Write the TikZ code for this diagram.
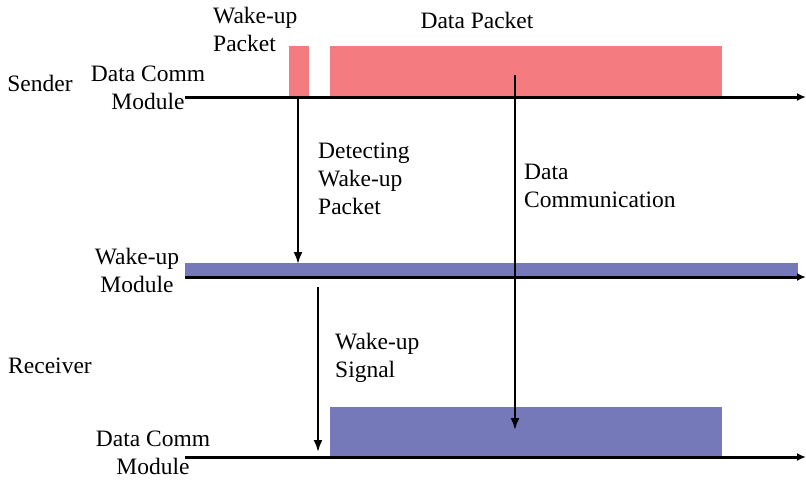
\documentclass[tikz,border=0pt]{standalone}
\usepackage{fontspec}
\setmainfont{Liberation Serif}
\newfontfamily\tnr{Liberation Serif}
\usepackage{xcolor}
\usetikzlibrary{arrows.meta,positioning,calc}

\definecolor{pktred}{RGB}{244,124,128}
\definecolor{sigblue}{RGB}{117,120,185}

\begin{document}
\begin{tikzpicture}[x=1pt, y=-1pt,
  lbl/.style={align=center, inner sep=0pt, font=\tnr\fontsize{23.5}{28}\selectfont},
  note/.style={align=left, inner sep=0pt, anchor=north west, font=\tnr\fontsize{23.5}{28}\selectfont},
  axis/.style={line width=3pt, -{Latex[length=9pt,width=8pt]}},
  arr/.style={line width=2.2pt, -{Latex[length=12pt,width=9pt]}}]
  \useasboundingbox (0,0) rectangle (806,480);
  % packets and signals
  \fill[pktred]  (289,46)  rectangle (309,97);
  \fill[pktred]  (330,46)  rectangle (722,97);
  \fill[sigblue] (185,263) rectangle (798,277);
  \fill[sigblue] (330,407) rectangle (722,457);
  % time lines
  \coordinate (s0) at (185,97);  \coordinate (s1) at (806,97);
  \coordinate (w0) at (185,277); \coordinate (w1) at (806,277);
  \coordinate (r0) at (185,457); \coordinate (r1) at (806,457);
  \draw[axis] (s0) -- (s1);
  \draw[axis] (w0) -- (w1);
  \draw[axis] (r0) -- (r1);
  % labels
  \node[lbl] (snd)  at (40,83)   {Sender};
  \node[lbl] (rcv)  at (50,366)  {Receiver};
  \node[lbl] (sdc)  at (148,88)  {Data Comm\\Module};
  \node[lbl] (wum)  at (137,270) {Wake-up\\Module};
  \node[lbl] (rdc)  at (153,453) {Data Comm\\Module};
  \node[note] (wup) at (213,7)   {Wake-up\\Packet};
  \node[lbl] (dpk)  at (477,20)  {Data Packet};
  \node[note] (det) at (318,143) {Detecting\\Wake-up\\Packet};
  \node[note] (dcm) at (524,164) {Data\\Communication};
  \node[note] (wsg) at (335,333) {Wake-up\\Signal};
  % arrows
  \coordinate (a0) at (298,97);  \coordinate (a1) at (298,264);
  \coordinate (b0) at (318,287); \coordinate (b1) at (318,452);
  \coordinate (c0) at (515,75);  \coordinate (c1) at (515,430);
  \draw[arr] (a0) -- (a1);
  \draw[arr] (b0) -- (b1);
  \draw[arr] (c0) -- (c1);
\end{tikzpicture}
\end{document}
